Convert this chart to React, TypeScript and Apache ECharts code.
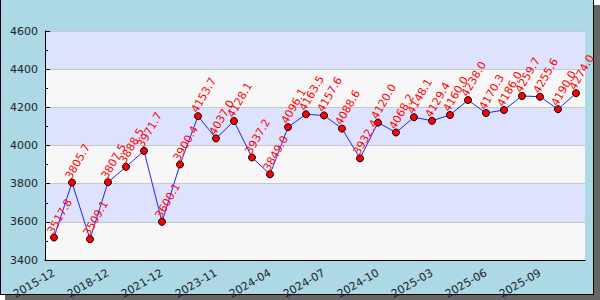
import React, { useEffect, useRef } from "react";
import * as echarts from "echarts";

const categories = [
  "2015-12", "2016-12", "2017-12", "2018-12", "2019-12", "2020-12",
  "2021-12", "2022-12", "2023-06", "2023-11", "2023-12", "2024-02",
  "2024-04", "2024-05", "2024-06", "2024-07", "2024-08", "2024-09",
  "2024-10", "2024-11", "2025-01", "2025-03", "2025-04", "2025-05",
  "2025-06", "2025-07", "2025-08", "2025-09", "2025-10", "2025-11",
];

const values = [
  3517.8, 3805.7, 3509.1, 3807.5, 3888.5, 3971.7, 3600.1, 3900.4, 4153.7, 4037.0,
  4128.1, 3937.2, 3849.0, 4096.1, 4163.5, 4157.6, 4088.6, 3932.4, 4120.0, 4068.2,
  4148.1, 4129.4, 4160.0, 4238.0, 4170.3, 4186.0, 4259.7, 4255.6, 4190.0, 4274.0,
];

const yMin = 3400;
const yMax = 4600;
const yStep = 200;

export default function App() {
  const ref = useRef<HTMLDivElement>(null);
  useEffect(() => {
    if (!ref.current) return;
    const chart = echarts.init(ref.current, undefined, { renderer: "svg" });
    const font = "DejaVu Sans";
    chart.setOption({
      animation: false,
      backgroundColor: "transparent",
      textStyle: { fontFamily: font },
      graphic: [
        { type: "rect", z: -10, shape: { x: 5, y: 5, width: 595, height: 295 }, style: { fill: "#666666" } },
        { type: "rect", z: -9, shape: { x: 0, y: 0, width: 594, height: 294 }, style: { fill: "#add8e6" } },
        { type: "line", z: -8, shape: { x1: 0.5, y1: 0, x2: 0.5, y2: 294 }, style: { stroke: "#000", lineWidth: 1 } },
        { type: "line", z: -8, shape: { x1: 0, y1: 294.5, x2: 594, y2: 294.5 }, style: { stroke: "#000", lineWidth: 1 } },
        { type: "line", z: -8, shape: { x1: 593.5, y1: 0, x2: 593.5, y2: 294 }, style: { stroke: "#000", lineWidth: 1 } },
      ],
      grid: { left: 45, right: 15, top: 31, bottom: 40, containLabel: false, outerBoundsMode: "none" },
      xAxis: {
        type: "category",
        data: categories,
        boundaryGap: true,
        axisLine: { lineStyle: { color: "#000", width: 1 } },
        axisTick: { inside: true, length: 5, alignWithLabel: true, interval: 0, lineStyle: { color: "#000" } },
        axisLabel: {
          interval: 2,
          rotate: 30,
          fontSize: 11,
          color: "#222",
          fontFamily: font,
          margin: 12,
        },
        splitLine: { show: false },
      },
      yAxis: {
        type: "value",
        min: yMin,
        max: yMax,
        interval: yStep,
        axisLine: { show: true, lineStyle: { color: "#000", width: 1 } },
        axisTick: { show: true, inside: true, length: 5, lineStyle: { color: "#000" } },
        minorTick: { show: true, splitNumber: 2, length: 3, lineStyle: { color: "#000" } },
        axisLabel: {
          fontSize: 11,
          color: "#222",
          fontFamily: font,
          margin: 7,
          formatter: (v: number) => String(v),
        },
        splitLine: { show: true, lineStyle: { color: "#c8c8c8", width: 1 } },
        splitArea: { show: true, areaStyle: { color: ["#f7f7f7", "#dde3fe"] } },
      },
      series: [
        {
          type: "line",
          data: values,
          symbol: "circle",
          symbolSize: 7,
          lineStyle: { color: "#2222ff", width: 1 },
          itemStyle: { color: "#ff0000", borderColor: "#000", borderWidth: 1 },
          label: {
            show: true,
            position: "top",
            distance: 5,
            rotate: 60,
            align: "left",
            verticalAlign: "middle",
            color: "#ff0000",
            fontSize: 11,
            fontFamily: font,
            formatter: (p: any) => Number(p.value).toFixed(1),
          },
          labelLayout: { hideOverlap: false, dx: -6, dy: -1 },
        },
      ],
    });
    return () => chart.dispose();
  }, []);
  return <div ref={ref} style={{ width: 600, height: 300, position: "absolute", left: 0, top: 0 }} />;
}
